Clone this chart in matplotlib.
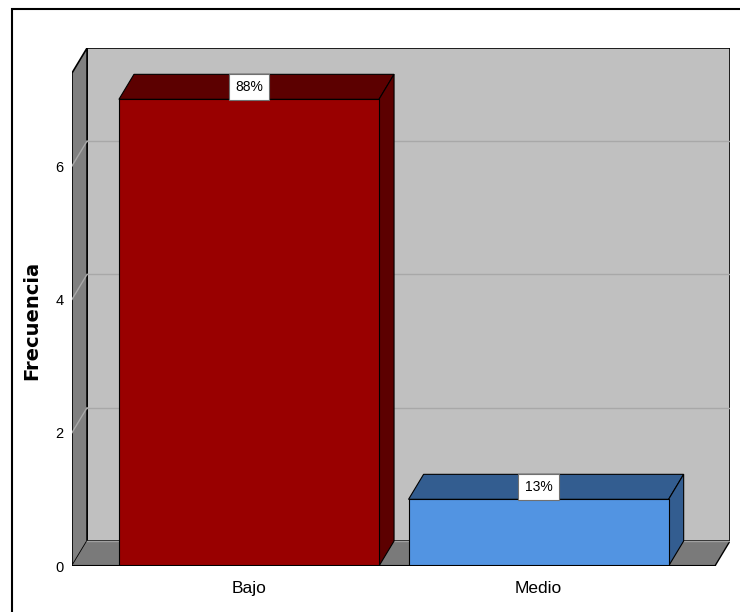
import math
import matplotlib
matplotlib.use('Agg')
import matplotlib.pyplot as plt
from matplotlib.patches import Polygon, Rectangle

categories = ['Bajo', 'Medio']
counts = [7, 1]
yticks = [0, 2, 4, 6]

colors_front = ['#990000', '#5294e2']
colors_dark = ['#5c0000', '#335d90']

total = sum(counts)
pct_labels = ['%d%%' % math.floor(100.0 * c / total + 0.5) for c in counts]

# pseudo-3d depth, in data units
dx = 0.052
dy = 0.375
bar_w = 0.898
x0, x1 = -0.611, 1.661
ytop = 7.77

plt.rcParams['font.family'] = ['Liberation Sans Narrow', 'Liberation Sans', 'DejaVu Sans']

fig = plt.figure(figsize=(7.4, 6.12), dpi=100)
ax = fig.add_axes([72 / 740, 46 / 612, 658 / 740, 518 / 612])
ax.set_xlim(x0, x1)
ax.set_ylim(0, ytop)
ax.set_facecolor('none')
for s in ax.spines.values():
    s.set_visible(False)

# walls and floor
ax.add_patch(Polygon([(x0 + dx, dy), (x1, dy), (x1, ytop), (x0 + dx, ytop)],
                     facecolor='#c0c0c0', edgecolor='black', lw=1.2, zorder=1))
ax.add_patch(Polygon([(x0, 0), (x0 + dx, dy), (x0 + dx, ytop), (x0, ytop - dy)],
                     facecolor='#808080', edgecolor='black', lw=1.2, zorder=2))
ax.add_patch(Polygon([(x0, 0), (x1 - dx, 0), (x1, dy), (x0 + dx, dy)],
                     facecolor='#7a7a7a', edgecolor='none', zorder=2))
ax.plot([x0, x1 - dx], [0, 0], color='black', lw=1.5, zorder=6)
ax.plot([x1 - dx, x1], [0, dy], color='black', lw=1, zorder=2)
ax.plot([x0 + dx, x1], [dy, dy], color='#a0a0a0', lw=1, zorder=2)

# grid on back and side wall
for v in yticks[1:]:
    ax.plot([x0 + dx, x1], [v + dy, v + dy], color='#a8a8a8', lw=1, zorder=2)
    ax.plot([x0, x0 + dx], [v, v + dy], color='#a8a8a8', lw=1, zorder=3)

# bars
for i, (c, fc, dc, lab) in enumerate(zip(counts, colors_front, colors_dark, pct_labels)):
    l, r = i - bar_w / 2, i + bar_w / 2
    ax.add_patch(Polygon([(l, 0), (r, 0), (r, c), (l, c)],
                         facecolor=fc, edgecolor='black', lw=0.8, zorder=5))
    ax.add_patch(Polygon([(l, c), (l + dx, c + dy), (r + dx, c + dy), (r, c)],
                         facecolor=dc, edgecolor='black', lw=0.8, zorder=4))
    ax.add_patch(Polygon([(r, 0), (r + dx, dy), (r + dx, c + dy), (r, c)],
                         facecolor=dc, edgecolor='black', lw=0.8, zorder=4))
    ax.text(i, c + dy / 2, lab, ha='center', va='center', fontsize=10, zorder=7,
            bbox=dict(boxstyle='square,pad=0.45', facecolor='white', edgecolor='#707070', lw=0.8))

ax.set_xticks(range(len(categories)))
ax.set_xticklabels(categories, fontsize=12.5)
ax.set_yticks(yticks)
ax.set_yticklabels([str(v) for v in yticks], fontsize=10.5)
ax.tick_params(axis='both', length=0)
ax.tick_params(axis='x', pad=11)
ax.tick_params(axis='y', pad=6)
ax.set_ylabel('Frecuencia', fontsize=14, fontweight='bold', family='DejaVu Sans')
ax.yaxis.set_label_coords(-0.046, 0.475)

# outer frame
fig.patches.append(Rectangle((12 / 740, -0.1), 1.0, 1 - 9 / 612 + 0.1, transform=fig.transFigure,
                             fill=False, edgecolor='black', lw=1.5))

fig.savefig('out.png', dpi=100, facecolor='white')
